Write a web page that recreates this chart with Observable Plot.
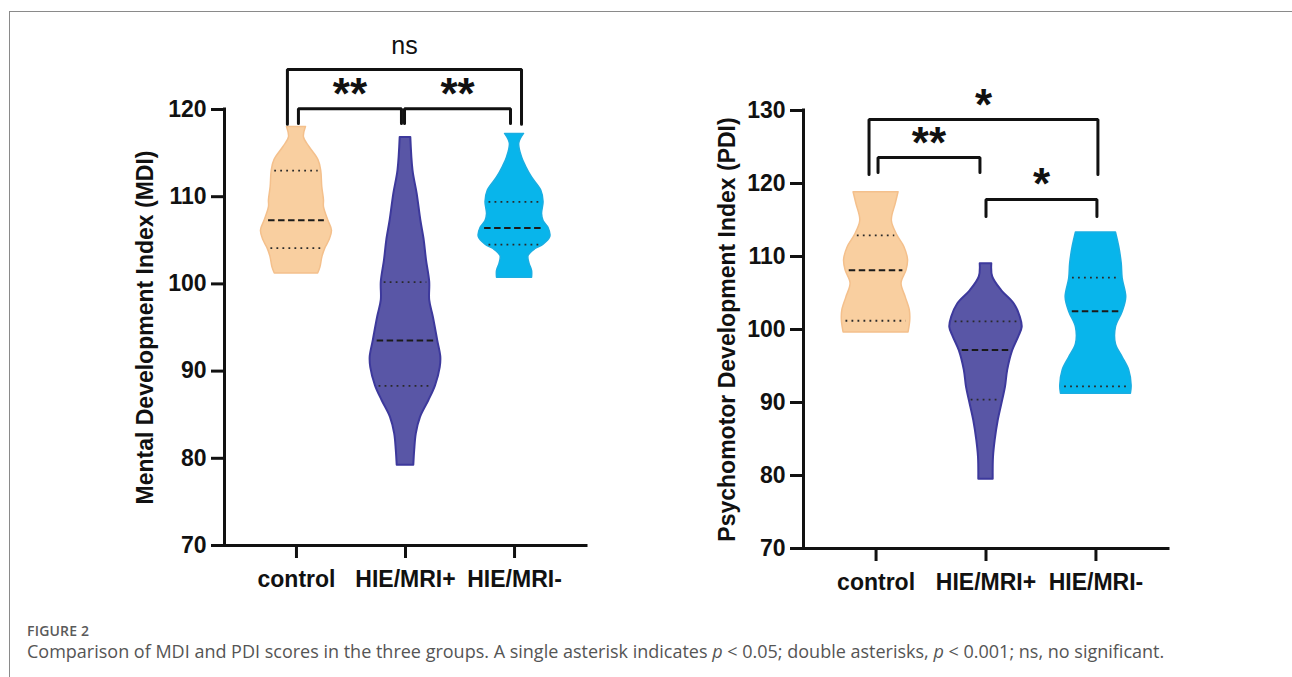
<!DOCTYPE html>
<html><head><meta charset="utf-8">
<script src="https://cdn.jsdelivr.net/npm/d3@7"></script>
<script src="https://cdn.jsdelivr.net/npm/@observablehq/plot@0.6"></script>
<style>
body{margin:0;background:#fff;}
#page{position:relative;width:1292px;height:677px;overflow:hidden;background:#fff;}
#frame{position:absolute;left:9px;top:11px;width:1300px;height:700px;border-left:1.5px solid #8a8a8a;border-top:1.5px solid #8a8a8a;}
#left{position:absolute;left:0;top:0;}
#right{position:absolute;left:640px;top:0;}
#fig{position:absolute;left:27px;top:621px;font-family:"Open Sans",sans-serif;font-size:14px;font-weight:600;color:#5a5a5a;letter-spacing:0.2px;}
#cap{position:absolute;left:27px;top:639px;font-family:"Open Sans",sans-serif;font-size:18px;color:#555;white-space:nowrap;}
</style></head>
<body>
<div id="page">
  <div id="frame"></div>
  <div id="left"></div>
  <div id="right"></div>
  <div id="fig">FIGURE 2</div>
  <div id="cap">Comparison of MDI and PDI scores in the three groups. A single asterisk indicates <i>p</i> &lt; 0.05; double asterisks, <i>p</i> &lt; 0.001; ns, no significant.</div>
</div>
<script>
// ---------- DATA ----------
const groups = ["control", "HIE/MRI+", "HIE/MRI-"];

// violin profiles: [value, relative density (half-width)]
const mdiControl = [[101.2,21.7],[101.9,24],[103.1,26],[104.1,29],[105.0,33],[106.1,35.5],[107.3,31.7],[108.8,27.5],[109.6,27.5],[111.1,25.8],[113.0,24.7],[114.2,22],[115.7,13],[116.8,7.5],[118.0,9.5]];
const mdiMriPos  = [[79.2,8.3],[80.9,9.2],[82.8,10.8],[84.7,15],[86.6,23.3],[88.3,30],[90.4,34.7],[91.6,35.3],[93.5,32.2],[96.2,27.8],[98.1,24.2],[100.2,24.2],[102.7,21],[105.0,18.7],[107.3,15.3],[110.3,11.7],[113.0,7.5],[116.8,5.3]];
const mdiMriNeg  = [[100.7,17.5],[101.5,17.5],[102.3,15],[103.2,14],[104.0,21],[104.5,29],[105.4,35.8],[106.4,34],[107.2,29],[108.0,27.5],[109.4,29],[110.7,26.7],[112.2,17.5],[113.4,11.7],[114.5,7.5],[116.1,4.7],[117.2,9.5]];

const pdiControl = [[99.6,32.5],[101.2,34.2],[102.6,33.8],[104.4,29.7],[106.3,25.5],[108.1,30.5],[109.5,32],[111.3,28.3],[112.9,21.3],[114.9,15.8],[117.2,19.7],[118.8,22.5]];
const pdiMriPos  = [[79.5,7.2],[82.5,7.5],[84.8,9.2],[87.5,12.2],[90.3,16.7],[92.1,19.5],[94.4,21.7],[97.1,26.7],[99.0,32.8],[100.3,36.2],[101.7,34.3],[103.5,28.3],[105.3,15.8],[107.2,6.7],[109.0,5.8]];
const pdiMriNeg  = [[91.2,35],[92.3,35.7],[94.4,33.3],[96.2,26.7],[98.0,20],[100.3,20],[102.4,26.7],[104.4,30.3],[107.0,26.7],[109.0,25.8],[111.3,23.3],[113.3,20]];

// quartiles [Q1, median, Q3]
const mdiQuartiles = [[104.1,107.3,113.0],[88.3,93.5,100.2],[104.5,106.4,109.4]];
const pdiQuartiles = [[101.2,108.1,112.9],[90.4,97.2,101.1],[92.2,102.5,107.1]];

const mdiTicks = [70,80,90,100,110,120];
const pdiTicks = [70,80,90,100,110,120,130];

const mdiComparisons = [{a:0,b:2,label:"ns"},{a:0,b:1,label:"**"},{a:1,b:2,label:"**"}];
const pdiComparisons = [{a:0,b:2,label:"*"},{a:0,b:1,label:"**"},{a:1,b:2,label:"*"}];

// ---------- LAYOUT / STYLE ----------
const fills   = ["#F9CFA0","#5956A6","#08B5EB"];
const strokes = ["#F4C08C","#3D399C","#1AAEE2"];
const font = "'Liberation Sans', Arial, Helvetica, sans-serif";
const mdiBracketLayout = [
  {level:124.6, drop:118.3, offA:-0.083, offB:0.064, dy:-22},
  {level:120.1, drop:118.4, offA:0.018, offB:-0.037, dy:-21},
  {level:120.1, drop:118.4, offA:-0.009, offB:-0.037, dy:-21}
];
const pdiBracketLayout = [
  {level:128.77, drop:121.23, offA:-0.064, offB:0.018, dy:-21},
  {level:123.56, drop:121.5, offA:0.018, offB:-0.055, dy:-21},
  {level:117.81, drop:115.48, offA:0, offB:0.009, dy:-22}
];

function widthAt(profile, v) {
  for (let k = 0; k < profile.length - 1; k++) {
    const [v0, w0] = profile[k], [v1, w1] = profile[k + 1];
    if (v >= v0 && v <= v1) return w0 + (w1 - w0) * (v - v0) / (v1 - v0);
  }
  return profile[profile.length - 1][1];
}

function panel(o) {
  const xd = [-0.66, 2.66];
  const scale = 1 / o.pxPerUnit;
  const marks = [];
  o.profiles.forEach((prof, i) => {
    const rows = prof.map(([v, w]) => ({y: v, x1: i - w * scale, x2: i + w * scale}));
    marks.push(Plot.areaX(rows, {y: "y", x1: "x1", x2: "x2", fill: fills[i], stroke: strokes[i], strokeWidth: i === 1 ? 2 : 1.5, curve: "catmull-rom"}));
    const q = o.quartiles[i];
    const qrows = q.map((v, k) => ({y: v, k, x1: i - widthAt(prof, v) * scale * 0.88, x2: i + widthAt(prof, v) * scale * 0.88}));
    marks.push(Plot.ruleY(qrows.filter(d => d.k !== 1), {y: "y", x1: "x1", x2: "x2", stroke: "#2a2a2a", strokeWidth: 1.8, strokeDasharray: "1.8,4.2"}));
    marks.push(Plot.ruleY(qrows.filter(d => d.k === 1), {y: "y", x1: "x1", x2: "x2", stroke: "#1a1a1a", strokeWidth: 2, strokeDasharray: "6.5,3.5"}));
  });
  // axes
  marks.push(Plot.ruleX([xd[0]], {y1: o.yDomain[0], y2: o.yDomain[1], strokeWidth: 3, stroke: "#111", strokeLinecap: "square"}));
  marks.push(Plot.ruleY([o.yDomain[0]], {x1: xd[0], x2: xd[1], strokeWidth: 3, stroke: "#111", strokeLinecap: "square"}));
  marks.push(Plot.axisY({ticks: o.yTicks, tickSize: 13, tickPadding: 5, strokeWidth: 3, stroke: "#111", fill: "#111", label: null, fontSize: 23, fontWeight: "bold", fontFamily: font}));
  marks.push(Plot.axisX({ticks: [0,1,2], tickFormat: i => groups[i], tickSize: 13, tickPadding: 12, strokeWidth: 3, stroke: "#111", fill: "#111", label: null, fontSize: 23, fontWeight: "bold", fontFamily: font}));
  marks.push(Plot.text([o.yLabel], {frameAnchor: "left", textAnchor: "middle", lineAnchor: "middle", rotate: -90, dx: o.labelDx, fontSize: 23, fontWeight: "bold", fontFamily: font, fill: "#111"}));
  // significance brackets
  const lines = [], labels = [];
  o.comparisons.forEach((c, k) => {
    const L = o.brackets[k];
    const xa = c.a + L.offA, xb = c.b + L.offB;
    lines.push({id: k, x: xa, y: L.drop}, {id: k, x: xa, y: L.level}, {id: k, x: xb, y: L.level}, {id: k, x: xb, y: L.drop});
    labels.push({x: (xa + xb) / 2, y: L.level, label: c.label, dy: L.dy});
  });
  marks.push(Plot.line(lines, {x: "x", y: "y", z: "id", stroke: "#111", strokeWidth: 3, strokeLinejoin: "miter", curve: "linear"}));
  labels.forEach(d => {
    const isNs = d.label === "ns";
    marks.push(Plot.text([d], {x: "x", y: "y", text: "label", fontSize: isNs ? 25 : 44, fontWeight: isNs ? "normal" : "bold", fontFamily: font, fill: "#111",
      dy: isNs ? d.dy - 1.5 : d.dy + 7.5}));
  });
  return Plot.plot({
    width: o.width, height: o.height,
    marginLeft: o.marginLeft, marginRight: o.marginRight, marginTop: o.marginTop, marginBottom: o.marginBottom,
    x: {type: "linear", domain: xd, axis: null},
    y: {domain: o.yDomain, axis: null},
    style: {fontFamily: font, background: "transparent", overflow: "visible"},
    marks
  });
}

document.getElementById("left").append(panel({
  width: 640, height: 600, marginLeft: 224, marginRight: 54, marginTop: 109, marginBottom: 55,
  pxPerUnit: 109, yDomain: [70,120], yTicks: mdiTicks, yLabel: "Mental Development Index (MDI)", labelDx: -79,
  profiles: [mdiControl, mdiMriPos, mdiMriNeg], quartiles: mdiQuartiles,
  comparisons: mdiComparisons, brackets: mdiBracketLayout
}));
document.getElementById("right").append(panel({
  width: 652, height: 600, marginLeft: 163, marginRight: 124, marginTop: 110, marginBottom: 52,
  pxPerUnit: 110, yDomain: [70,130], yTicks: pdiTicks, yLabel: "Psychomotor Development Index (PDI)", labelDx: -76,
  profiles: [pdiControl, pdiMriPos, pdiMriNeg], quartiles: pdiQuartiles,
  comparisons: pdiComparisons, brackets: pdiBracketLayout
}));
</script>
</body></html>
